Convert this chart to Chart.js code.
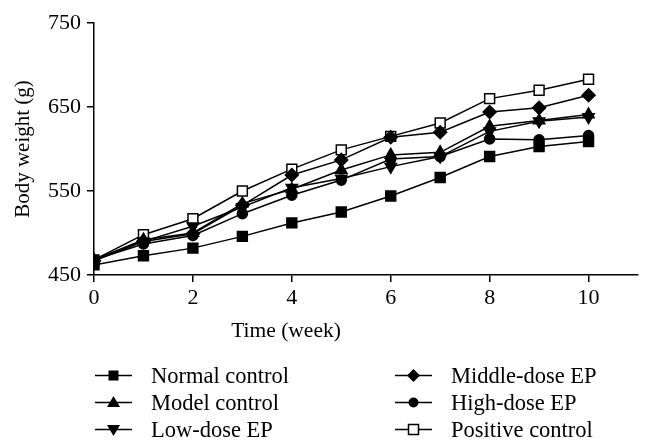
<!DOCTYPE html>
<html>
<head>
<meta charset="utf-8">
<script src="https://cdn.jsdelivr.net/npm/chart.js@4/dist/chart.umd.min.js"></script>
<style>
  html, body { margin: 0; padding: 0; background: #fff; }
  #wrap { position: relative; width: 656px; height: 448px; }
  #legend { position: absolute; left: 0; top: 0; width: 656px; height: 448px; pointer-events: none;
            font-family: 'Liberation Serif', 'DejaVu Serif', serif; font-size: 22.5px; color: #000; }
  .item { position: absolute; height: 26px; line-height: 26px; white-space: nowrap; }
  .item svg { position: absolute; left: 0; top: 4px; }
  .item span { position: absolute; top: 0; }
  #xtitle { position: absolute; left: 186px; width: 200px; top: 316px; height: 28px; line-height: 28px;
            text-align: center; font-size: 21.5px; }
</style>
</head>
<body>
<div id="wrap">
  <canvas id="myChart" width="656" height="448"></canvas>
  <div id="legend"><div id="xtitle">Time (week)</div></div>
</div>
<script>
// weeks on the x axis
var weeks = [0, 1, 2, 3, 4, 5, 6, 7, 8, 9, 10]
var xTicks = [0, 2, 4, 6, 8, 10]
var yTicks = [450, 550, 650, 750]

// body weight (g) per group
var normalControl  = [462, 473, 482, 496, 512, 525, 544, 566, 591, 603, 609]
var modelControl   = [468, 492, 500, 535, 552, 575, 593, 596, 627, 634, 641]
var lowDoseEP      = [467, 490, 508, 531, 554, 565, 579, 591, 621, 633, 638]
var middleDoseEP   = [467, 490, 499, 533, 569, 587, 614, 620, 644, 649, 664]
var highDoseEP     = [468, 487, 497, 523, 545, 563, 588, 591, 612, 611, 616]
var positiveControl = [468, 498, 517, 550, 576, 599, 615, 631, 660, 670, 683]

var groupNames = ['Normal control', 'Model control', 'Low-dose EP', 'Middle-dose EP', 'High-dose EP', 'Positive control']

Chart.defaults.font.family = "'Liberation Serif', 'DejaVu Serif', serif"
Chart.defaults.color = '#000'

function toPoints (arr) {
  return arr.map((v, i) => ({ x: weeks[i], y: v }))
}

function mkSet (label, values, style, radius, fill, rotation) {
  return {
    label: label,
    data: toPoints(values),
    borderColor: '#000',
    backgroundColor: fill,
    borderWidth: 1.5,
    pointStyle: style,
    pointRadius: radius,
    pointRotation: rotation || 0,
    pointBackgroundColor: fill,
    pointBorderColor: '#000',
    pointBorderWidth: 1.5,
    tension: 0
  }
}

var datasets = [
  mkSet(groupNames[0], normalControl, 'rect', 7, '#000'),
  mkSet(groupNames[1], modelControl, 'triangle', 6.5, '#000'),
  mkSet(groupNames[2], lowDoseEP, 'triangle', 6.5, '#000', 180),
  mkSet(groupNames[3], middleDoseEP, 'rectRot', 6.5, '#000'),
  mkSet(groupNames[4], highDoseEP, 'circle', 5, '#000'),
  mkSet(groupNames[5], positiveControl, 'rect', 7, '#fff')
]

const ctx = document.getElementById('myChart').getContext('2d')
const myChart = new Chart(ctx, {
  type: 'line',
  data: { datasets: datasets },
  options: {
    responsive: false,
    animation: false,
    layout: { padding: { top: 23, right: 18, bottom: 102, left: 7 } },
    plugins: { legend: { display: false }, tooltip: { enabled: false } },
    scales: {
      x: {
        type: 'linear',
        min: 0,
        max: 11,
        afterBuildTicks: s => { s.ticks = xTicks.map(v => ({ value: v })) },
        afterFit: s => { s.height = 71 },
        ticks: { font: { size: 22 }, padding: 3, maxRotation: 0 },
        grid: { drawOnChartArea: false, drawTicks: true, tickLength: 7, color: '#000', lineWidth: 1.5 },
        border: { color: '#000', width: 1.5 },
        title: { display: false }
      },
      y: {
        min: 450,
        max: 750,
        afterBuildTicks: s => { s.ticks = yTicks.map(v => ({ value: v })) },
        afterFit: s => { s.width = 87 },
        ticks: { font: { size: 22 }, padding: 6 },
        grid: { drawOnChartArea: false, drawTicks: true, tickLength: 7, color: '#000', lineWidth: 1.5 },
        border: { color: '#000', width: 1.5 },
        title: { display: true, text: 'Body weight (g)', font: { size: 21 }, padding: { top: 4, bottom: 4 } }
      }
    }
  }
})

// legend: two columns of three rows, drawn as html so the text stays text
var legendPos = [
  [95, 363], [95, 390], [95, 417],
  [395, 363], [395, 390], [395, 417]
]
var markerSvg = [
  '<rect x="13.5" y="3.5" width="10" height="10" fill="#000"/>',
  '<polygon points="18.5,2 25,13 12,13" fill="#000"/>',
  '<polygon points="18.5,15 25,4 12,4" fill="#000"/>',
  '<polygon points="18.5,2 25,8.5 18.5,15 12,8.5" fill="#000"/>',
  '<circle cx="18.5" cy="8.5" r="5" fill="#000"/>',
  '<rect x="13.5" y="3.5" width="10" height="10" fill="#fff" stroke="#000" stroke-width="1.5"/>'
]
var legendEl = document.getElementById('legend')
groupNames.forEach((name, i) => {
  var d = document.createElement('div')
  d.className = 'item'
  d.style.left = legendPos[i][0] + 'px'
  d.style.top = legendPos[i][1] + 'px'
  d.innerHTML = '<svg width="37" height="17"><line x1="0" y1="8.5" x2="37" y2="8.5" stroke="#000" stroke-width="1.5"/>' +
    markerSvg[i] + '</svg><span style="left:56px">' + name + '</span>'
  legendEl.appendChild(d)
})
</script>
</body>
</html>
